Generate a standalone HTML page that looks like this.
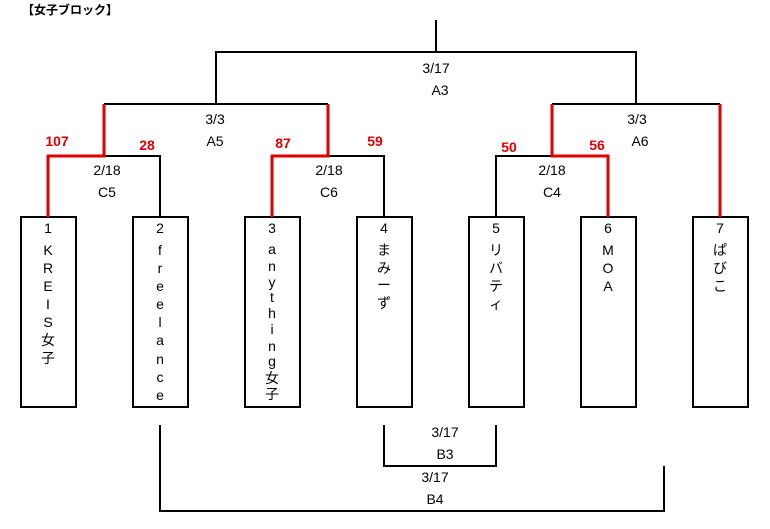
<!DOCTYPE html>
<html><head><meta charset="utf-8"><style>
html,body{margin:0;padding:0;background:#fff;}
svg{display:block;}
text{font-family:"Liberation Sans","Noto Sans CJK JP",sans-serif;font-size:14px;fill:#000;text-anchor:middle;}
.r{fill:#e00000;font-weight:bold;}
</style></head><body>
<svg width="770" height="529" viewBox="0 0 770 529" xmlns="http://www.w3.org/2000/svg">
<text x="22" y="14" style="text-anchor:start;font-size:12px;font-weight:bold">【女子ブロック】</text>
<g stroke="#000" stroke-width="2" fill="none">
<polyline points="436,20 436,52"/>
<polyline points="216,104 216,52 636,52 636,104"/>
<polyline points="104,104 328,104"/>
<polyline points="552,104 720,104"/>
<polyline points="104,156 160,156 160,217"/>
<polyline points="328,156 384,156 384,217"/>
<polyline points="552,156 496,156 496,217"/>
<rect x="21" y="217" width="55" height="190"/>
<rect x="133" y="217" width="55" height="190"/>
<rect x="245" y="217" width="55" height="190"/>
<rect x="357" y="217" width="55" height="190"/>
<rect x="469" y="217" width="55" height="190"/>
<rect x="581" y="217" width="55" height="190"/>
<rect x="693" y="217" width="55" height="190"/>
<polyline points="384,425 384,466 496,466 496,425"/>
<polyline points="160,425 160,511 664,511 664,466"/>
</g>
<g stroke="#e00000" stroke-width="3" fill="none">
<polyline points="104,104 104,156 48,156 48,217"/>
<polyline points="328,104 328,156 272,156 272,217"/>
<polyline points="552,104 552,156 608,156 608,217"/>
<polyline points="720,104 720,217"/>
</g>
<text x="436" y="73">3/17</text><text x="440" y="95">A3</text>
<text x="215" y="124">3/3</text><text x="215" y="146">A5</text>
<text x="637" y="124">3/3</text><text x="640" y="146">A6</text>
<text x="107" y="175">2/18</text><text x="107" y="197">C5</text>
<text x="329" y="175">2/18</text><text x="329" y="197">C6</text>
<text x="552" y="175">2/18</text><text x="552" y="197">C4</text>
<text class="r" x="57" y="146">107</text>
<text class="r" x="147" y="150">28</text>
<text class="r" x="283" y="148">87</text>
<text class="r" x="375" y="146">59</text>
<text class="r" x="509" y="152">50</text>
<text class="r" x="597" y="150">56</text>
<text x="445" y="437">3/17</text><text x="445" y="459">B3</text>
<text x="435" y="482">3/17</text><text x="435" y="504">B4</text>
<g>
<text x="48" y="233">1</text><text x="48" y="255">K</text><text x="48" y="273">R</text><text x="48" y="291">E</text><text x="48" y="309">I</text><text x="48" y="327">S</text><text x="48" y="345">女</text><text x="48" y="363">子</text>
<text x="160" y="233">2</text><text x="160" y="255">f</text><text x="160" y="273">r</text><text x="160" y="291">e</text><text x="160" y="309">e</text><text x="160" y="327">l</text><text x="160" y="345">a</text><text x="160" y="364">n</text><text x="160" y="382">c</text><text x="160" y="400">e</text>
<text x="272" y="233">3</text><text x="272" y="254">a</text><text x="272" y="271">n</text><text x="272" y="287">y</text><text x="272" y="302">t</text><text x="272" y="318">h</text><text x="272" y="334">i</text><text x="272" y="351">n</text><text x="272" y="366">g</text><text x="272" y="383">女</text><text x="272" y="399">子</text>
<text x="384" y="233">4</text><text x="384" y="255">ま</text><text x="384" y="273">み</text><text x="384" y="290">ー</text><text x="384" y="308">ず</text>
<text x="496" y="233">5</text><text x="496" y="255">リ</text><text x="496" y="273">バ</text><text x="496" y="291">テ</text><text x="496" y="309">ィ</text>
<text x="608" y="233">6</text><text x="608" y="255">M</text><text x="608" y="273">O</text><text x="608" y="291">A</text>
<text x="720" y="233">7</text><text x="720" y="255">ぱ</text><text x="720" y="273">び</text><text x="720" y="291">こ</text>
</g>
</svg>
</body></html>
